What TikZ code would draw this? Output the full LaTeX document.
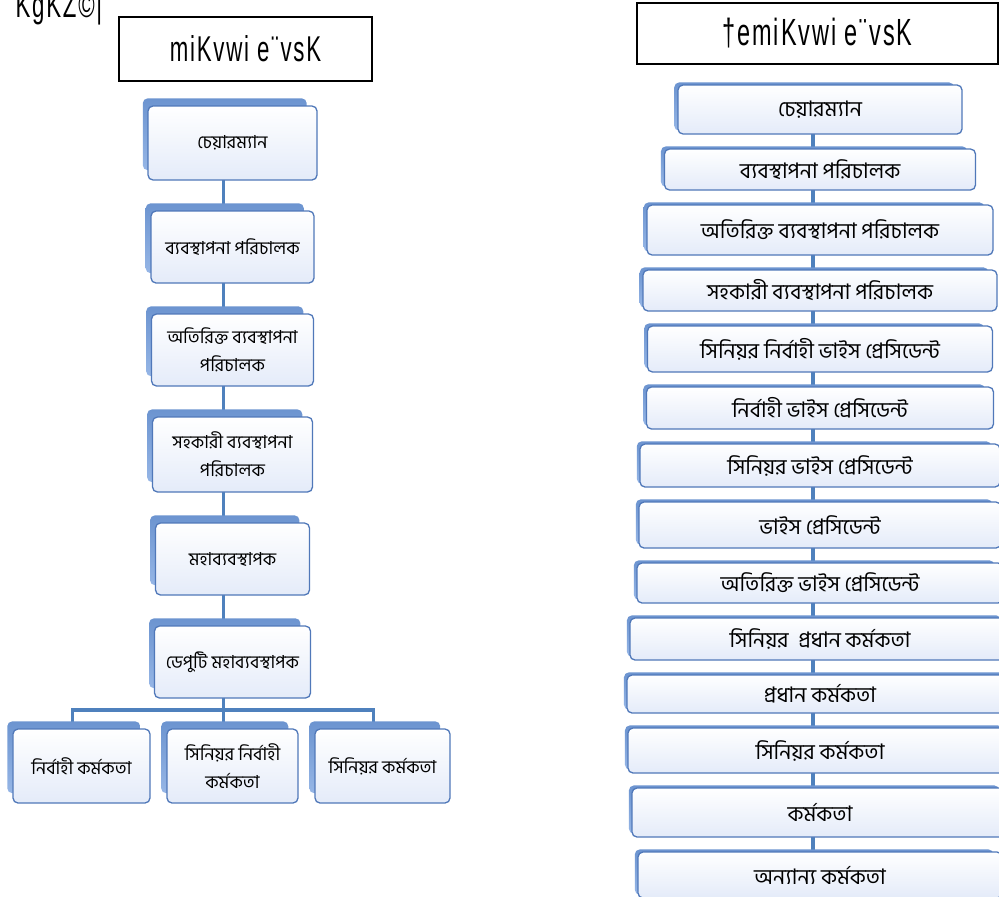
\documentclass[tikz,border=0pt]{standalone}
\usepackage{fontspec}
\usepackage{tikz}
\usetikzlibrary{positioning,shadows,backgrounds}
\newfontfamily\bnfont[Script=Bengali]{Hind Siliguri}
\newfontfamily\sutfont[FakeStretch=0.62,LetterSpace=5]{Liberation Sans}
\definecolor{linkblue}{RGB}{79,129,189}
\definecolor{edgeblue}{RGB}{80,120,185}
\definecolor{backtop}{RGB}{108,148,208}
\definecolor{backbot}{RGB}{150,182,230}
\definecolor{frontbot}{RGB}{228,235,249}

\begin{document}
\begin{tikzpicture}[x=1bp, y=-1bp, node distance={31bp},
  box/.style = {draw=edgeblue, line width=1.3bp, rounded corners=5bp, top color=white, bottom color=frontbot,
                inner sep=2bp, outer sep=0pt, align=center, font=\bnfont\fontsize{18}{28}\selectfont},
  lbox/.style = {box, minimum height=72bp,
                 general shadow={shadow xshift=-8bp, shadow yshift=9bp, shadow scale=0.97,
                                 rounded corners=4bp, top color=backtop, bottom color=backbot}},
  rbox/.style = {box, font=\bnfont\fontsize{21.5}{28}\selectfont,
                 general shadow={shadow xshift=-6bp, shadow yshift=3bp, shadow scale=0.985,
                                 rounded corners=4bp, top color=backtop, bottom color=backbot}},
  title/.style = {draw, line width=1.8bp, inner sep=0pt},
  link/.style = {draw=linkblue, line width=3.5bp}]
  \useasboundingbox (0,0) rectangle (999,897);

  \node[anchor=base west, font=\sutfont\fontsize{36}{40}\selectfont] (tag) at (12,17) {KgKZ©|};
  \node[title, minimum width=253bp, minimum height=64bp, font=\sutfont\fontsize{36}{40}\selectfont] (gov) at (245.5,49) {miKvwi e¨vsK};
  \node[title, minimum width=361bp, minimum height=61bp, font=\sutfont\fontsize{38}{40}\selectfont] (pvt) at (817.5,33.5) {†emiKvwi e¨vsK};

  \node[lbox, minimum width=169bp, minimum height=74bp] (l1) at (232.5,143) {চেয়ারম্যান};
  \node[lbox, minimum width=163bp] (l2) [below =of l1] {ব্যবস্থাপনা পরিচালক};
  \node[lbox, minimum width=162bp] (l3) [below =of l2] {অতিরিক্ত ব্যবস্থাপনা\\পরিচালক};
  \node[lbox, minimum width=160bp, minimum height=75bp] (l4) [below =of l3] {সহকারী ব্যবস্থাপনা\\পরিচালক};
  \node[lbox, minimum width=154bp] (l5) [below =of l4] {মহাব্যবস্থাপক};
  \node[lbox, minimum width=156bp] (l6) [below =of l5] {ডেপুটি মহাব্যবস্থাপক};
  \node[lbox, minimum width=131bp, minimum height=74bp] (c2) [below =of l6] {সিনিয়র নির্বাহী\\কর্মকতা};
  \node[lbox, minimum width=137bp, minimum height=74bp] (c1) [left =17bp of c2] {নির্বাহী কর্মকতা};
  \node[lbox, minimum width=135bp, minimum height=74bp] (c3) [right =17bp of c2] {সিনিয়র কর্মকতা};

  \begin{scope}[node distance={15bp}]
  \node[rbox, minimum width=284bp, minimum height=49bp] (r1) at (820,109.5) {চেয়ারম্যান};
  \node[rbox, minimum width=311bp, minimum height=41bp] (r2) [below =of r1] {ব্যবস্থাপনা পরিচালক};
  \node[rbox, minimum width=346bp, minimum height=50bp] (r3) [below =of r2] {অতিরিক্ত ব্যবস্থাপনা পরিচালক};
  \node[rbox, minimum width=354bp, minimum height=41bp] (r4) [below =of r3] {সহকারী ব্যবস্থাপনা পরিচালক};
  \node[rbox, minimum width=345bp, minimum height=46bp] (r5) [below =of r4] {সিনিয়র নির্বাহী ভাইস প্রেসিডেন্ট};
  \node[rbox, minimum width=347bp, minimum height=42bp] (r6) [below =of r5] {নির্বাহী ভাইস প্রেসিডেন্ট};
  \node[rbox, minimum width=360bp, minimum height=43bp] (r7) [below =of r6] {সিনিয়র ভাইস প্রেসিডেন্ট};
  \node[rbox, minimum width=362bp, minimum height=46bp] (r8) [below =of r7] {ভাইস প্রেসিডেন্ট};
  \node[rbox, minimum width=366bp, minimum height=40bp] (r9) [below =of r8] {অতিরিক্ত ভাইস প্রেসিডেন্ট};
  \node[rbox, minimum width=380bp, minimum height=42bp] (r10) [below =of r9] {সিনিয়র\ \ প্রধান কর্মকতা};
  \node[rbox, minimum width=386bp, minimum height=38bp] (r11) [below =of r10] {প্রধান কর্মকতা};
  \node[rbox, minimum width=384bp, minimum height=45bp] (r12) [below =of r11] {সিনিয়র কর্মকতা};
  \node[rbox, minimum width=376bp, minimum height=49bp] (r13) [below =of r12] {কর্মকতা};
  \node[rbox, minimum width=364bp, minimum height=46bp] (r14) [below =of r13] {অন্যান্য কর্মকতা};
  \end{scope}

  \begin{scope}[on background layer]
  \draw[link] ([xshift=-9bp]l1.center) -- ([xshift=-9bp]l2.center);
  \draw[link] ([xshift=-9bp]l2.center) -- ([xshift=-9bp]l3.center);
  \draw[link] ([xshift=-9bp]l3.center) -- ([xshift=-9bp]l4.center);
  \draw[link] ([xshift=-9bp]l4.center) -- ([xshift=-9bp]l5.center);
  \draw[link] ([xshift=-9bp]l5.center) -- ([xshift=-9bp]l6.center);
  \coordinate (bus) at ([xshift=-9bp,yshift=-12bp]l6.south);
  \draw[link] ([xshift=-9bp]l6.center) -- (bus) -| ([xshift=-9bp]c1.center);
  \draw[link] (bus) -| ([xshift=-9bp]c3.center);
  \draw[link] (bus) -- ([xshift=-9bp]c2.center);
  \draw[link] ([xshift=-7bp]r1.center) -- ([xshift=-7bp]r2.center);
  \draw[link] ([xshift=-7bp]r2.center) -- ([xshift=-7bp]r3.center);
  \draw[link] ([xshift=-7bp]r3.center) -- ([xshift=-7bp]r4.center);
  \draw[link] ([xshift=-7bp]r4.center) -- ([xshift=-7bp]r5.center);
  \draw[link] ([xshift=-7bp]r5.center) -- ([xshift=-7bp]r6.center);
  \draw[link] ([xshift=-7bp]r6.center) -- ([xshift=-7bp]r7.center);
  \draw[link] ([xshift=-7bp]r7.center) -- ([xshift=-7bp]r8.center);
  \draw[link] ([xshift=-7bp]r8.center) -- ([xshift=-7bp]r9.center);
  \draw[link] ([xshift=-7bp]r9.center) -- ([xshift=-7bp]r10.center);
  \draw[link] ([xshift=-7bp]r10.center) -- ([xshift=-7bp]r11.center);
  \draw[link] ([xshift=-7bp]r11.center) -- ([xshift=-7bp]r12.center);
  \draw[link] ([xshift=-7bp]r12.center) -- ([xshift=-7bp]r13.center);
  \draw[link] ([xshift=-7bp]r13.center) -- ([xshift=-7bp]r14.center);
  \end{scope}
\end{tikzpicture}
\end{document}
